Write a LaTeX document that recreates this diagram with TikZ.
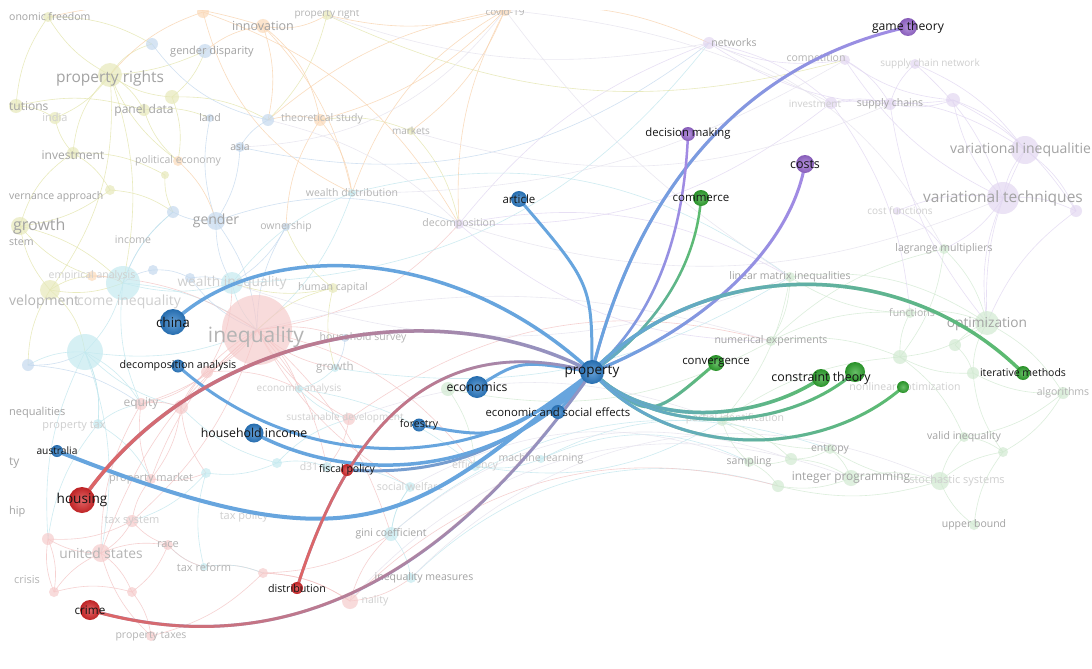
\documentclass[tikz,border=0pt]{standalone}
\usepackage{fontspec}
\setmainfont{Open Sans}
\usetikzlibrary{fadings}
\definecolor{cBlue}{HTML}{2A7BC6}
\definecolor{cRed}{HTML}{D8282A}
\definecolor{cPurple}{HTML}{9A6AD2}
\definecolor{cGreen}{HTML}{2EA52E}
\definecolor{eBlue}{HTML}{67A5DE}
\definecolor{eRed}{HTML}{E06464}
\definecolor{eMix}{HTML}{8E97C9}
\definecolor{ePurple}{HTML}{A48AE4}
\definecolor{eGreen}{HTML}{5CBC6C}
\definecolor{fYG}{HTML}{E6E8B8}
\definecolor{fOr}{HTML}{FBD9B8}
\definecolor{fBl}{HTML}{C3D8EE}
\definecolor{fCy}{HTML}{C4EAF0}
\definecolor{fRd}{HTML}{F6CACA}
\definecolor{fPu}{HTML}{E2D6F1}
\definecolor{fGr}{HTML}{D0E9D0}
\definecolor{mYG}{HTML}{E4E6AE}
\definecolor{mOr}{HTML}{F9D3AE}
\definecolor{mBl}{HTML}{C6DAEF}
\definecolor{mCy}{HTML}{C2E7EE}
\definecolor{mRd}{HTML}{F4C6C6}
\definecolor{mPu}{HTML}{E2D8F2}
\definecolor{mGr}{HTML}{D3EAD3}
\definecolor{mGy}{HTML}{E6E3EE}
\definecolor{tA}{HTML}{A3A3A3}
\definecolor{tB}{HTML}{B4B4B4}
\definecolor{tC}{HTML}{CFCFCF}
\pgfdeclarelayer{base}
\pgfdeclarelayer{mesh}
\pgfdeclarelayer{faint}
\pgfdeclarelayer{edges}
\pgfdeclarelayer{cover}
\pgfsetlayers{base,mesh,faint,edges,main,cover}
\tikzfading[name=fadeR, left color=transparent!0, right color=transparent!100]
\tikzset{
  hdot/.style={circle, inner sep=0pt, draw=none, inner color=#1!72!white, outer color=#1!88!black},
  hlab/.style={inner sep=0pt, text=black!92},
  fdot/.style={circle, inner sep=0pt, draw=none, fill=#1, fill opacity=0.68},
  flab/.style={inner sep=0pt, text=#1},
  flabw/.style={inner sep=0pt, text=#1, anchor=west},
  meshline/.style={draw=#1, line width=0.6pt, opacity=0.8},
  hedge/.style={line width=3pt, line cap=round},
}
\newcommand\hnode[6]{%
  \node[hdot=#4, minimum size=#3pt] (#1) at (#2) {};
  \node[hlab, font=\fontsize{#5}{#5}\selectfont] (#1-l) at (#2) {#6};}
\newcommand\fnd[4]{\node[fdot=#4, minimum size=#3pt] (#1) at (#2) {};}
\newcommand\flb[5]{\node[flab=#4, font=\fontsize{#3}{#3}\selectfont] (#1) at (#2) {#5};}
\newcommand\flbw[5]{\node[flabw=#4, font=\fontsize{#3}{#3}\selectfont] (#1) at (#2) {#5};}
\newcommand\gedge[4]{%
  \draw[hedge, draw=#3, line width=#4pt] #1;
  \draw[hedge, draw=#2, line width=#4pt, path fading=fadeR] #1;}
\begin{document}
\begin{tikzpicture}[x=1pt, y=-1pt]
\useasboundingbox (0,0) rectangle (1092,669);
\begin{pgfonlayer}{base}
\fill[white] (0,0) rectangle (1092,669);
\end{pgfonlayer}
% ---------------- faded network ----------------
\begin{pgfonlayer}{faint}
% yellow-green
\fnd{y1}{48,17}{10}{fYG}
\fnd{y2}{110,75}{24}{fYG}
\fnd{y3}{172,97}{14}{fYG}
\fnd{y4}{327,15}{10}{fYG}
\fnd{y5}{16,106}{14}{fYG}
\fnd{y6}{55,118}{12}{fYG}
\fnd{y7}{144,110}{12}{fYG}
\fnd{y8}{73,153}{12}{fYG}
\fnd{y9}{110,190}{10}{fYG}
\fnd{y10}{20,226}{18}{fYG}
\fnd{y11}{50,290}{20}{fYG}
\fnd{y12}{411,131}{8}{fYG}
\fnd{y13}{333,288}{10}{fYG}
\fnd{y14}{165,175}{8}{fYG}
% orange
\fnd{o1}{203,12}{12}{fOr}
\fnd{o2}{263,26}{14}{fOr}
\fnd{o3}{505,10}{12}{fOr}
\fnd{o4}{320,120}{12}{fOr}
\fnd{o5}{178,161}{10}{fOr}
\fnd{o6}{92,276}{10}{fOr}
% blue
\fnd{b1}{152,44}{12}{fBl}
\fnd{b2}{205,51}{14}{fBl}
\fnd{b3}{210,118}{8}{fBl}
\fnd{b4}{268,120}{12}{fBl}
\fnd{b5}{240,147}{10}{fBl}
\fnd{b6}{216,221}{18}{fBl}
\fnd{b7}{173,212}{12}{fBl}
\fnd{b8}{286,227}{8}{fBl}
\fnd{b9}{153,270}{10}{fBl}
\fnd{b10}{190,278}{10}{fBl}
\fnd{b11}{28,365}{12}{fBl}
\fnd{b12}{345,338}{8}{fBl}
% cyan
\fnd{c1}{123,283}{34}{fCy}
\fnd{c2}{232,283}{22}{fCy}
\fnd{c3}{85,352}{36}{fCy}
\fnd{c4}{352,193}{8}{fCy}
\fnd{c5}{335,368}{8}{fCy}
\fnd{c6}{299,389}{8}{fCy}
\fnd{c7}{98,424}{10}{fCy}
\fnd{c8}{327,467}{10}{fCy}
\fnd{c9}{475,466}{10}{fCy}
\fnd{c10}{410,487}{10}{fCy}
\fnd{c11}{541,459}{8}{fCy}
\fnd{c12}{391,534}{14}{fCy}
\fnd{c13}{411,578}{10}{fCy}
\fnd{c14}{204,567}{8}{fCy}
\fnd{c15}{206,473}{10}{fCy}
\fnd{c16}{277,463}{10}{fCy}
% red
\fnd{r1}{257,330}{70}{fRd}
\fnd{r2}{141,404}{12}{fRd}
\fnd{r3}{181,407}{14}{fRd}
\fnd{r4}{151,479}{10}{fRd}
\fnd{r5}{132,521}{12}{fRd}
\fnd{r6}{168,545}{10}{fRd}
\fnd{r7}{101,553}{18}{fRd}
\fnd{r8}{48,539}{12}{fRd}
\fnd{r9}{54,592}{10}{fRd}
\fnd{r10}{132,592}{10}{fRd}
\fnd{r11}{151,636}{10}{fRd}
\fnd{r12}{263,573}{10}{fRd}
\fnd{r13}{350,601}{16}{fRd}
\fnd{r14}{349,419}{12}{fRd}
\fnd{r15}{207,372}{12}{fRd}
% purple
\fnd{p1}{709,43}{12}{fPu}
\fnd{p2}{845,60}{10}{fPu}
\fnd{p3}{915,64}{10}{fPu}
\fnd{p4}{831,103}{12}{fPu}
\fnd{p5}{890,104}{12}{fPu}
\fnd{p6}{953,100}{14}{fPu}
\fnd{p7}{1025,150}{28}{fPu}
\fnd{p8}{1003,198}{32}{fPu}
\fnd{p9}{1076,211}{12}{fPu}
\fnd{p10}{459,224}{10}{fPu}
\fnd{p11}{897,211}{8}{fPu}
% green
\fnd{g1}{944,249}{10}{fGr}
\fnd{g2}{790,277}{10}{fGr}
\fnd{g3}{910,313}{10}{fGr}
\fnd{g4}{987,323}{24}{fGr}
\fnd{g5}{955,345}{12}{fGr}
\fnd{g6}{900,357}{14}{fGr}
\fnd{g7}{973,373}{12}{fGr}
\fnd{g8}{771,341}{10}{fGr}
\fnd{g9}{722,421}{10}{fGr}
\fnd{g10}{964,437}{10}{fGr}
\fnd{g11}{830,449}{10}{fGr}
\fnd{g12}{749,462}{10}{fGr}
\fnd{g13}{791,459}{12}{fGr}
\fnd{g14}{778,486}{12}{fGr}
\fnd{g15}{851,478}{16}{fGr}
\fnd{g16}{940,481}{18}{fGr}
\fnd{g17}{974,525}{10}{fGr}
\fnd{g18}{1063,393}{12}{fGr}
\fnd{g19}{1003,452}{10}{fGr}
\fnd{g20}{448,389}{14}{fGr}
% faded labels
\flbw{L1}{9,17}{10.5}{tA}{onomic freedom}
\flb{L2}{263,26}{12.5}{tA}{innovation}
\flb{L3}{327,14}{10}{tB}{property right}
\flb{L4}{505,12}{10}{tB}{covid-19}
\flb{L5}{212,52}{11}{tA}{gender disparity}
\flb{L6}{110,78}{15.5}{tA}{property rights}
\flbw{L7}{9,106}{12}{tA}{tutions}
\flb{L8}{55,117}{11}{tC}{india}
\flb{L9}{144,110}{12}{tA}{panel data}
\flb{L10}{210,118}{10.5}{tA}{land}
\flb{L11}{322,119}{10.5}{tB}{theoretical study}
\flb{L12}{240,147}{10.5}{tA}{asia}
\flb{L13}{73,155}{12}{tA}{investment}
\flb{L14}{178,161}{10.5}{tB}{political economy}
\flb{L15}{411,131}{10}{tB}{markets}
\flbw{L16}{9,197}{10.5}{tA}{vernance approach}
\flbw{L17}{13,226}{16}{tA}{growth}
\flb{L18}{352,193}{10.5}{tB}{wealth distribution}
\flb{L19}{459,224}{10.5}{tB}{decomposition}
\flb{L20}{216,221}{14}{tA}{gender}
\flb{L21}{133,240}{10.5}{tB}{income}
\flb{L22}{286,227}{10.5}{tB}{ownership}
\flbw{L23}{9,242}{10.5}{tA}{stem}
\flb{L24}{92,276}{10.5}{tC}{empirical analysis}
\flb{L25}{232,283}{13.7}{tC}{wealth inequality}
\flb{L26}{333,288}{10.5}{tB}{human capital}
\flbw{L27}{9,302}{14}{tB}{velopment}
\flbw{L28}{77,302}{14}{tC}{come inequality}
\flb{L29}{256,337}{21}{tB}{inequality}
\flb{L30}{363,338}{10.5}{tB}{household survey}
\flb{L31}{335,368}{11.5}{tB}{growth}
\flb{L32}{299,389}{10}{tC}{economic analysis}
\flb{L33}{345,418}{10}{tC}{sustainable development}
\flb{L34}{141,404}{12}{tB}{equity}
\flbw{L35}{9,413}{11}{tA}{nequalities}
\flb{L36}{74,426}{11}{tC}{property tax}
\flbw{L37}{9,463}{12}{tA}{ty}
\flb{L38}{151,479}{11}{tB}{property market}
\flbw{L39}{9,512}{11}{tA}{hip}
\flb{L40}{132,521}{11}{tC}{tax system}
\flb{L41}{244,517}{11}{tC}{tax policy}
\flb{L42}{168,545}{11}{tB}{race}
\flb{L43}{101,553}{13.8}{tB}{united states}
\flb{L44}{204,567}{11}{tB}{tax reform}
\flb{L45}{27,580}{11}{tB}{crisis}
\flb{L46}{151,636}{10.5}{tB}{property taxes}
\flb{L47}{309,467}{10.5}{tC}{d31}
\flb{L48}{475,466}{10.5}{tC}{efficiency}
\flb{L49}{410,487}{10.5}{tC}{social welfare}
\flb{L50}{541,459}{10.5}{tB}{machine learning}
\flb{L51}{391,534}{10.5}{tA}{gini coefficient}
\flb{L52}{424,578}{10.5}{tA}{inequality measures}
\flb{L53}{375,601}{10.5}{tC}{nality}
\flb{L54}{734,43}{10.5}{tA}{networks}
\flb{L55}{816,59}{10.5}{tB}{competition}
\flb{L56}{930,64}{10}{tC}{supply chain network}
\flb{L57}{815,104}{10}{tC}{investment}
\flb{L58}{890,104}{10.5}{tA}{supply chains}
\flbw{L59}{950,150}{14}{tA}{variational inequalitie}
\flb{L60}{1003,198}{15.5}{tA}{variational techniques}
\flb{L61}{900,211}{10}{tC}{cost functions}
\flb{L62}{944,249}{10.5}{tA}{lagrange multipliers}
\flb{L63}{790,277}{10.5}{tA}{linear matrix inequalities}
\flb{L64}{912,313}{10.5}{tB}{functions}
\flb{L65}{987,324}{13.7}{tA}{optimization}
\flb{L66}{771,341}{10.5}{tA}{numerical experiments}
\flb{L67}{735,419}{10.5}{tC}{partial identification}
\flb{L68}{905,388}{10.5}{tC}{nonlinear optimization}
\flb{L69}{830,449}{10.5}{tA}{entropy}
\flb{L70}{749,462}{10.5}{tA}{sampling}
\flb{L71}{851,478}{11.9}{tA}{integer programming}
\flb{L72}{957,481}{11}{tC}{stochastic systems}
\flb{L73}{964,437}{10.5}{tA}{valid inequality}
\flb{L74}{974,525}{10.5}{tA}{upper bound}
\flb{L75}{1063,393}{10.5}{tB}{algorithms}
\end{pgfonlayer}
% ---------------- faint mesh ----------------
\begin{pgfonlayer}{mesh}
\foreach \a/\b/\c/\d in {
 y2/y7/mYG/15, y2/y3/mYG/-15, y2/b1/mYG/20, y2/y8/mYG/-20, y2/c1/mYG/15, y2/o5/mYG/-15,
 y2/y11/mYG/20, y2/b2/mYG/-10, y5/y7/mYG/15, y6/y8/mYG/-15, y8/y9/mYG/15, y8/y10/mYG/-20,
 y10/c1/mYG/15, y10/y11/mYG/-15, y11/c3/mYG/20, y11/c1/mYG/-15, y9/b7/mYG/15, y3/b2/mYG/-15,
 y3/o5/mYG/15, y1/y2/mYG/-15, y1/o2/mOr/15, o2/b2/mOr/-15, o2/b4/mOr/15, o2/y4/mOr/-20,
 o2/c4/mOr/15, o1/y2/mOr/-15, o3/y4/mOr/15, o3/b4/mOr/-15, o3/p1/mOr/15, o3/c4/mOr/-20,
 o3/o4/mOr/15, o3/p10/mOr/-15, y4/b4/mYG/15, b4/b5/mBl/-15, b5/b6/mBl/15, b3/b6/mBl/-15,
 b6/b7/mBl/15, b6/c2/mBl/-15, b6/r1/mBl/15, b7/c1/mBl/-15, b8/c2/mBl/15, b8/r1/mBl/-15,
 c4/r1/mCy/15, c2/r1/mCy/-15, c1/r1/mCy/15, c3/r1/mCy/-15, c3/r2/mCy/15, c3/r3/mCy/-15,
 c1/c3/mCy/15, b9/c1/mBl/-15, b10/c2/mBl/15, b11/c3/mBl/-15, r1/r2/mRd/15, r1/r3/mRd/-15,
 r1/r15/mRd/15, r1/c5/mRd/-15, r1/c6/mRd/15, r1/r14/mRd/-15, r1/b12/mRd/15, r1/r4/mRd/-15,
 r1/r5/mRd/15, r1/r7/mRd/-15, r1/c8/mRd/15, r1/c10/mRd/-15, r1/c12/mRd/15, r2/r7/mRd/-15,
 r3/r4/mRd/15, r4/r5/mRd/-15, r5/r7/mRd/15, r6/r7/mRd/-15, r7/r8/mRd/15, r7/r9/mRd/-15,
 r7/r10/mRd/15, r7/r11/mRd/-15, r10/r11/mRd/15, r11/r12/mRd/-15, r12/r13/mRd/15, r13/c13/mRd/-15,
 c12/c13/mCy/15, c10/c12/mCy/-15, c8/c10/mCy/15, c9/c11/mCy/-15, c6/c9/mCy/15, c15/c16/mCy/-15,
 c14/r6/mCy/15, r4/c15/mRd/-15, c7/r2/mCy/15, c7/c3/mCy/-15, b12/c5/mBl/15, r1/o6/mRd/-15,
 o6/c1/mOr/15, y13/r1/mYG/-15, y13/c2/mYG/15, y12/o4/mYG/-15, y12/p10/mYG/15,
 r1/p10/mRd/-20, r1/c9/mRd/20, c2/p1/mCy/-25, b6/p10/mBl/20, r8/r9/mRd/15, r5/r6/mRd/-15,
 r2/r3/mRd/15, r15/r3/mRd/-15, c16/r14/mCy/15, r12/c14/mRd/-15,
 p1/p4/mPu/15, p1/p2/mPu/-15, p2/p5/mPu/15, p3/p5/mPu/-15, p4/p5/mPu/15, p5/p6/mPu/-15,
 p6/p7/mPu/15, p7/p8/mPu/-15, p8/p9/mPu/15, p8/p11/mPu/-15, p7/p9/mPu/15, p6/p8/mPu/-15,
 p3/p8/mPu/15, p2/p8/mPu/-15, p11/g1/mPu/15, p8/g4/mPu/-15, p10/p1/mPu/15, p10/p4/mPu/-20,
 p10/g2/mPu/20, p1/p6/mPu/-20, p4/p7/mPu/20,
 g1/g4/mGr/15, g2/g3/mGr/-15, g3/g4/mGr/15, g4/g5/mGr/-15, g4/g6/mGr/15, g4/g7/mGr/-15,
 g5/g7/mGr/15, g6/g7/mGr/-15, g6/g10/mGr/15, g3/g6/mGr/-15, g8/g6/mGr/15, g8/g2/mGr/-15,
 g9/g6/mGr/15, g9/g11/mGr/-15, g11/g15/mGr/15, g12/g13/mGr/-15, g13/g15/mGr/15, g14/g15/mGr/-15,
 g15/g16/mGr/15, g16/g17/mGr/-15, g16/g10/mGr/15, g19/g16/mGr/-15, g18/g7/mGr/15, g18/g4/mGr/-15,
 g10/g19/mGr/15, g7/g19/mGr/-15, g2/g4/mGr/20, g9/g12/mGr/-15, c11/g9/mCy/15, c9/g9/mCy/-20,
 g8/g1/mGr/15, g20/g8/mGr/-20, g20/c9/mGr/15,
 b5/p1/mBl/-25, y4/p2/mYG/-20, c4/g2/mCy/25, p10/g8/mPu/-20, c11/g12/mCy/25, c13/g14/mCy/30,
 r13/g14/mRd/30, c12/g11/mCy/30, r14/g8/mRd/25, c5/g2/mCy/-20,
 y1/b1/mYG/15, y1/y5/mYG/-15, y5/y6/mYG/15, y6/y2/mYG/-15, y7/b3/mYG/15, y7/o5/mYG/-15,
 y8/y14/mYG/15, y14/b7/mYG/-15, y9/y10/mYG/15, y10/o6/mYG/-15, y11/o6/mYG/15, y11/b11/mYG/-15,
 c1/b7/mCy/15, c1/c2/mCy/-15, c2/c4/mCy/15, c3/b11/mCy/-15, c3/c7/mCy/15, c3/r8/mCy/-15,
 c3/r7/mCy/15, c1/r2/mCy/-15, b9/b10/mBl/15, b10/r1/mBl/-15, o5/b6/mOr/15, o4/b4/mOr/-15,
 o4/c4/mOr/15, o4/b8/mOr/-15, y13/b8/mYG/15, y13/c5/mYG/-15, c5/c6/mCy/15, c6/r14/mCy/-15,
 r14/c8/mRd/15, c8/c16/mCy/-15, c16/r3/mCy/15, r3/c15/mRd/-15, c15/r5/mCy/15, c15/c14/mCy/-15,
 c14/r12/mCy/15, r12/c12/mRd/-15, c12/c10/mCy/15, r13/r12/mRd/-15, r13/c12/mRd/15, r10/r9/mRd/-15,
 r9/r8/mRd/15, r8/r5/mRd/-15, r6/r10/mRd/15, r6/c14/mRd/-15, r4/r2/mRd/15, r2/r15/mRd/-15,
 r15/c6/mRd/15, r15/c2/mRd/-15, c7/r4/mCy/15, c7/r8/mCy/-15, b11/r2/mBl/15,
 o3/p4/mGy/10, o3/g2/mGy/-10, o1/p10/mOr/20, y4/p1/mGy/-15, c4/p2/mGy/-15, y12/p5/mGy/-20,
 b4/p10/mGy/15, r1/g8/mGy/15, c2/g2/mGy/-20, r14/g9/mGy/20, c10/g12/mGy/25, c12/g13/mGy/30,
 r13/g15/mGy/35, c13/g16/mGy/35, p10/p8/mGy/-20, p1/g1/mGy/20, p4/g3/mPu/15, p5/g4/mPu/-15,
 p3/p7/mPu/15, p2/p6/mPu/-15, p6/p9/mPu/15, p7/g4/mPu/-15, p8/g1/mPu/15, p9/g4/mPu/-15,
 g1/g6/mGr/15, g3/g8/mGr/-15, g2/g9/mGr/15, g11/g16/mGr/-15, g12/g14/mGr/15, g14/g16/mGr/-15,
 g17/g19/mGr/15, g13/g11/mGr/-15, g9/g13/mGr/15, g10/g18/mGr/-15, g18/g19/mGr/15,
 o1/c4/mOr/-25, o2/o4/mOr/20, o3/y12/mOr/15, o3/b5/mGy/25, y3/b4/mYG/15, b1/b4/mBl/-20}
 {\draw[meshline=\c] (\a.center) to[bend left=\d] (\b.center);}
\end{pgfonlayer}
% ---------------- highlighted nodes ----------------
\hnode{property}{592,372}{24}{cBlue}{13.5}{property}
\hnode{article}{519,199}{16}{cBlue}{11.5}{article}
\hnode{china}{173,322}{26}{cBlue}{13.5}{china}
\hnode{decomp}{178,366}{13}{cBlue}{10.7}{decomposition analysis}
\hnode{household}{254,433}{19}{cBlue}{12.3}{household income}
\hnode{australia}{57,451}{12}{cBlue}{10.2}{australia}
\hnode{economics}{477,387}{22}{cBlue}{12.2}{economics}
\hnode{forestry}{419,425}{13}{cBlue}{10.5}{forestry}
\hnode{econsoc}{558,412}{14}{cBlue}{11.3}{economic and social effects}
\hnode{fiscal}{347,470}{12}{cRed}{10.5}{fiscal policy}
\hnode{housing}{82,500}{26}{cRed}{13.6}{housing}
\hnode{distribution}{297,588}{12}{cRed}{10.7}{distribution}
\hnode{crime}{90,610}{20}{cRed}{11.7}{crime}
\hnode{decision}{688,134}{14}{cPurple}{11.3}{decision making}
\hnode{game}{908,27}{18}{cPurple}{12.2}{game theory}
\hnode{costs}{805,164}{18}{cPurple}{12.5}{costs}
\hnode{commerce}{701,198}{16}{cGreen}{11.5}{commerce}
\hnode{convergence}{716,363}{16}{cGreen}{11.4}{convergence}
\node[hdot=cGreen, minimum size=20pt] (ctwo) at (855,372) {};
\node[hdot=cGreen, minimum size=12pt] (nlopt) at (903,387) {};
\hnode{constraint}{821,378}{18}{cGreen}{12.4}{constraint theory}
\hnode{iterative}{1023,373}{14}{cGreen}{10.5}{iterative methods}
% ---------------- highlighted links ----------------
\begin{pgfonlayer}{edges}
\draw[hedge, draw=eBlue, line width=3.5pt] (china.center) .. controls (260,240) and (450,240) .. (property.center);
\draw[hedge, draw=eBlue] (article.center) .. controls (592,284) .. (property.center);
\draw[hedge, draw=eBlue] (decomp.center) .. controls (300,475) and (480,475) .. (property.center);
\draw[hedge, draw=eBlue!88!eRed] (fiscal.center) .. controls (470,478) and (530,430) .. (property.center);
\draw[hedge, draw=eBlue, line width=3.5pt] (household.center) .. controls (350,485) and (500,480) .. (property.center);
\draw[hedge, draw=eBlue, line width=4pt] (australia.center) .. controls (357,570) and (410,525) .. (property.center);
\draw[hedge, draw=eBlue] (economics.center) .. controls (520,360) .. (property.center);
\draw[hedge, draw=eBlue] (forestry.center) .. controls (500,440) .. (property.center);
\draw[hedge, draw=eBlue] (econsoc.center) -- (property.center);
\gedge{(housing.center) .. controls (200,330) and (440,290) .. (property.center)}{eRed}{eMix}{3.5}
\gedge{(distribution.center) .. controls (350,420) and (440,330) .. (property.center)}{eRed}{eMix}{2.8}
\gedge{(crime.center) .. controls (300,670) and (460,560) .. (property.center)}{eRed}{eMix}{3}
\gedge{(property.center) .. controls (635,200) and (735,65) .. (game.center)}{eBlue}{ePurple}{3}
\gedge{(property.center) .. controls (640,330) and (683,260) .. (decision.center)}{eBlue}{ePurple}{2.5}
\gedge{(property.center) .. controls (700,330) and (790,250) .. (costs.center)}{eBlue}{ePurple}{3}
\gedge{(property.center) .. controls (640,340) and (695,280) .. (commerce.center)}{eBlue}{eGreen}{2.5}
\gedge{(property.center) .. controls (650,420) .. (convergence.center)}{eBlue}{eGreen}{3}
\gedge{(property.center) .. controls (650,430) and (760,420) .. (constraint.center)}{eBlue}{eGreen}{3.5}
\gedge{(property.center) .. controls (660,440) and (790,430) .. (ctwo.center)}{eBlue}{eGreen}{3}
\gedge{(property.center) .. controls (670,460) and (820,460) .. (nlopt.center)}{eBlue}{eGreen}{3}
\gedge{(property.center) .. controls (700,260) and (900,250) .. (iterative.center)}{eBlue}{eGreen}{3.5}
\end{pgfonlayer}
% ---------------- white margins ----------------
\begin{pgfonlayer}{cover}
\fill[white] (0,0) rectangle (1092,10);
\fill[white] (0,0) rectangle (8,669);
\end{pgfonlayer}
\end{tikzpicture}
\end{document}
